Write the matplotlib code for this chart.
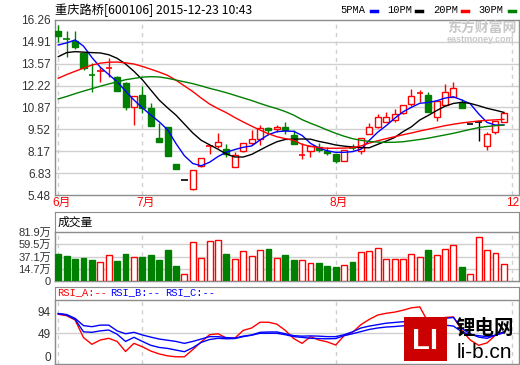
import numpy as np
import matplotlib
matplotlib.use("Agg")
import matplotlib.pyplot as plt
from matplotlib.patches import Rectangle
from matplotlib.transforms import blended_transform_factory, offset_copy

plt.rcParams['font.family'] = ['Liberation Sans', 'Noto Sans CJK SC']

# ---- data ----
title = "重庆路桥[600106] 2015-12-23 10:43"

opens = [15.58, 15.14, 14.97, 14.25, 12.89, 13.10, 13.30, 12.77, 12.40, 10.92,
         11.64, 10.82, 8.97, 9.67, 7.39, 6.40, 5.84, 7.28, 8.48, 8.51,
         8.31, 7.19, 8.21, 8.67, 8.91, 9.59, 9.53, 9.65, 9.17, 7.93,
         8.21, 8.46, 8.21, 7.99, 7.59, 8.41, 8.18, 9.22, 9.69, 10.00,
         10.10, 10.51, 11.08, 11.74, 11.64, 10.30, 11.02, 11.53, 11.13, 9.84,
         9.99, 8.52, 9.38, 9.99]
highs = [15.95, 15.58, 15.58, 14.25, 13.59, 13.38, 13.94, 12.80, 12.42, 11.58,
         12.19, 11.15, 9.93, 9.67, 7.39, 6.40, 7.00, 7.74, 8.50, 9.28,
         8.60, 8.15, 8.66, 9.48, 9.79, 9.69, 9.79, 9.99, 9.48, 8.66,
         8.50, 8.66, 8.46, 8.00, 8.25, 8.60, 9.00, 9.90, 10.47, 10.57,
         10.76, 11.02, 12.01, 11.95, 11.80, 11.27, 12.30, 12.46, 11.39, 9.84,
         9.99, 9.34, 10.04, 10.61]
lows = [14.92, 14.00, 14.45, 13.18, 11.84, 12.46, 12.77, 11.90, 10.72, 9.79,
        10.55, 9.75, 8.76, 7.90, 7.08, 6.40, 5.78, 7.22, 7.98, 8.36,
        7.84, 7.19, 8.11, 8.56, 8.56, 9.17, 9.38, 9.24, 8.60, 7.68,
        7.84, 8.15, 7.94, 7.43, 7.59, 8.25, 7.99, 9.22, 9.59, 10.00,
        10.00, 10.45, 10.98, 11.20, 10.60, 10.04, 11.02, 11.53, 10.86, 9.84,
        8.81, 8.25, 9.22, 9.99]
closes = [15.27, 15.08, 14.62, 13.28, 12.85, 13.15, 13.34, 11.90, 10.92, 11.58,
          10.86, 9.75, 8.76, 7.90, 7.08, 6.40, 7.00, 7.74, 8.50, 8.74,
          8.00, 7.94, 8.66, 8.91, 9.59, 9.49, 9.65, 9.49, 8.60, 7.95,
          8.50, 8.26, 8.05, 7.59, 8.25, 8.39, 9.00, 9.65, 10.27, 10.27,
          10.45, 11.02, 11.58, 11.78, 10.61, 11.27, 11.84, 12.05, 10.86, 9.84,
          9.99, 9.24, 10.04, 10.51]

ma5 = [14.72, 14.85, 15.03, 14.65, 13.95, 13.35, 12.90, 12.46, 11.88, 11.33,
       10.85, 10.41, 9.99, 9.50, 8.65, 7.90, 7.42, 7.28, 7.50, 7.85,
       8.12, 8.28, 8.42, 8.50, 8.87, 9.20, 9.38, 9.42, 9.40, 9.15,
       8.66, 8.38, 8.20, 8.11, 8.11, 8.15, 8.30, 8.85, 9.35, 9.75,
       10.20, 10.60, 10.88, 11.13, 11.18, 11.28, 11.45, 11.53, 11.33, 11.10,
       10.48, 9.95, 9.79, 9.79]
ma10 = [14.00, 14.25, 14.31, 14.28, 14.25, 14.23, 14.12, 13.90, 13.55, 13.10,
        12.58, 11.95, 11.33, 10.85, 10.40, 9.85, 9.30, 8.85, 8.57, 8.30,
        8.00, 7.82, 7.82, 7.98, 8.25, 8.52, 8.76, 8.90, 8.92, 8.93,
        8.92, 8.78, 8.68, 8.56, 8.49, 8.44, 8.39, 8.39, 8.60, 8.80,
        9.02, 9.38, 9.68, 10.10, 10.38, 10.68, 10.95, 11.12, 11.19, 11.12,
        10.98, 10.82, 10.70, 10.57]
ma20 = [12.67, 12.90, 13.10, 13.30, 13.48, 13.60, 13.66, 13.67, 13.62, 13.55,
        13.40, 13.23, 13.05, 12.85, 12.55, 12.20, 11.85, 11.45, 11.08, 10.80,
        10.55, 10.25, 9.98, 9.72, 9.48, 9.25, 9.07, 8.95, 8.85, 8.60,
        8.48, 8.40, 8.36, 8.36, 8.37, 8.40, 8.50, 8.68, 8.82, 8.95,
        9.07, 9.19, 9.30, 9.42, 9.53, 9.64, 9.75, 9.84, 9.92, 9.98,
        10.04, 10.08, 10.11, 10.14]
ma30 = [11.40, 11.55, 11.72, 11.88, 12.03, 12.18, 12.32, 12.45, 12.58, 12.66,
        12.74, 12.77, 12.75, 12.67, 12.56, 12.45, 12.34, 12.20, 12.05, 11.92,
        11.78, 11.62, 11.46, 11.30, 11.12, 10.95, 10.80, 10.62, 10.40, 10.12,
        9.90, 9.70, 9.48, 9.28, 9.10, 8.95, 8.85, 8.78, 8.74, 8.72,
        8.73, 8.76, 8.83, 8.90, 8.98, 9.08, 9.18, 9.28, 9.40, 9.52,
        9.63, 9.70, 9.75, 9.79]

volume = [44.6, 41.3, 37.3, 38.5, 35.1, 31.2, 43.0, 33.4, 44.6, 39.6,
          39.6, 43.0, 35.1, 51.8, 25.1, 11.2, 64.7, 38.0, 66.4, 68.1,
          45.2, 36.8, 49.7, 41.8, 51.8, 53.5, 38.0, 43.5, 35.1, 34.6,
          29.6, 30.1, 25.1, 23.4, 26.8, 31.8, 48.0, 50.2, 54.7, 36.8,
          36.8, 36.8, 44.6, 39.6, 51.8, 43.0, 53.5, 59.7, 23.4, 11.2,
          73.1, 51.3, 46.3, 27.9]
vol_dir = "GGGGGRRGGRGGGGGRRRRRGRRRRGRGGRRGGGRGRRRRRRRRGRRRGRRRRR"

rsi_a = [88.5, 85.6, 76.7, 40, 26, 35, 38.5, 32, 11, 28,
         21, 12, 6, 2, 0, 0, 15, 31, 46, 48,
         39, 39, 55, 60, 72, 72, 68, 55, 38, 28,
         42, 35, 31, 24.6, 44, 51, 67, 78, 87, 90.6,
         93, 97, 102, 104, 72, 74, 82, 83, 55, 35,
         24, 29, 45, 52]
rsi_b = [90, 88, 80, 65, 62.7, 66, 66, 54, 48, 51,
         45.5, 41, 37, 34.5, 32, 28, 32, 37, 42, 42,
         40, 39, 43, 45.4, 51, 51.7, 51.7, 48, 44, 43,
         43.5, 43, 42, 42, 46, 52, 60, 64, 67, 70,
         71.5, 73, 74, 75, 74, 76, 80, 82, 59, 48,
         41, 38.5, 45, 52]
rsi_c = [90, 87, 78, 52, 51, 54, 55.8, 47, 32, 40.6,
         32, 24, 19.5, 17.5, 14, 10.6, 19, 30, 36, 38.5,
         37.5, 38, 42, 45, 49, 49, 49, 46, 42, 40.5,
         38.5, 38, 37.5, 38, 44, 48, 52.5, 57, 60, 62,
         63, 64.5, 65, 65.5, 64, 65, 66, 64, 52, 46,
         44, 42, 45, 50]

price_ticks = [16.26, 14.91, 13.57, 12.22, 10.87, 9.52, 8.17, 6.83, 5.48]
vol_max = 81.9
vol_labels = ["81.9万", "59.5万", "37.1万", "14.7万", "0"]
rsi_ticks = [94, 49, 0]
month_pos = [0, 10, 33, 54]
month_labels = ["6月", "7月", "8月", "12"]

# ---- figure ----
W, H = 520, 365
fig = plt.figure(figsize=(W / 100, H / 100), dpi=100)
fig.patch.set_facecolor("white")

RED, GREEN, BLUE = "#ff0000", "#008000", "#0000ff"
FRAME, GRID, TXT = "#8c8c8c", "#d0d0d0", "#333333"
n = len(closes)
xs = np.arange(n)
XL = (-0.39, 54.8)


def add_ax(x0, y0, x1, y1):
    return fig.add_axes([x0 / W, 1 - y1 / H, (x1 - x0) / W, (y1 - y0) / H])


def style(ax):
    ax.set_xlim(*XL)
    ax.set_xticks([])
    for s in ax.spines.values():
        s.set_color(FRAME)
        s.set_linewidth(1)
    ax.tick_params(axis="y", length=0, pad=3, labelsize=8.5, labelcolor=TXT)
    for p in month_pos:
        ax.axvline(p, color=GRID, lw=1, ls=(0, (3, 3)), zorder=0)


# main price panel
ax = add_ax(55, 19.5, 519, 195)
style(ax)
ax.set_ylim(5.48, 16.29)
ax.set_yticks(price_ticks)
ax.set_yticklabels([f"{t:.2f}" for t in price_ticks])
for t in price_ticks[1:-1]:
    ax.axhline(t, color=GRID, lw=1, zorder=0)

for i in range(n):
    o, h, l, c = opens[i], highs[i], lows[i], closes[i]
    col = RED if c > o else (GREEN if c < o else "black")
    ax.vlines(i, l, h, color=col, lw=1, zorder=2)
    bottom, height = min(o, c), abs(c - o)
    if height < 0.07:
        ax.hlines((o + c) / 2, i - 0.38, i + 0.38, color=col, lw=1.2, zorder=3)
    else:
        face = "white" if c > o else col
        ax.add_patch(Rectangle((i - 0.36, bottom), 0.72, height, facecolor=face,
                               edgecolor=col, lw=1, zorder=3))

ax.plot(xs, ma5, color=BLUE, lw=1, zorder=4)
ax.plot(xs, ma10, color="black", lw=1, zorder=4)
ax.plot(xs, ma20, color=RED, lw=1, zorder=4)
ax.plot(xs, ma30, color=GREEN, lw=1, zorder=4)

trans = offset_copy(blended_transform_factory(ax.transData, ax.transAxes),
                    fig=fig, x=-6, y=0, units="dots")
for p, lab in zip(month_pos, month_labels):
    ax.text(p, -0.046, lab, transform=trans, ha="left", va="center",
            color=RED, fontsize=8.5, clip_on=False)

# title & legend
fig.text(55 / W, 1 - 10 / H, title, fontsize=8.8, va="center", ha="left",
         family=["Noto Sans CJK SC"])
leg = [("5PMA", 340, BLUE, 371), ("10PM", 387, "black", 416),
       ("20PM", 433, RED, 462), ("30PM", 478, GREEN, 509)]
for lab, tx, col, dx in leg:
    fig.text(tx / W, 1 - 10 / H, lab, fontsize=7.5, va="center", ha="left",
             family=["Liberation Mono"])
    fig.add_artist(plt.Line2D([dx / W, (dx + 6) / W], [1 - 10.5 / H, 1 - 10.5 / H],
                              color=col, lw=2.5))

# watermark
fig.text(447 / W, 1 - 28 / H, "东方财富网", fontsize=10, color="#c8c8c8",
         weight="bold", va="center", family=["Noto Sans CJK SC"])
fig.text(447 / W, 1 - 40 / H, "eastmoney.com", fontsize=6.5, color="#c8c8c8",
         weight="bold", va="center")

# volume panel
vbox = add_ax(55, 212, 519, 281)
vbox.set_xticks([]); vbox.set_yticks([])
for s in vbox.spines.values():
    s.set_color(FRAME)
vbox.text(3 / 464, 1 - 10 / 69, "成交量", transform=vbox.transAxes, fontsize=8.5,
          va="center", ha="left", family=["Noto Sans CJK SC"])

axv = add_ax(55, 232, 519, 281)
style(axv)
axv.set_ylim(0, vol_max)
# the software spaces its volume labels evenly down the panel
vol_pos = np.linspace(vol_max, 0, len(vol_labels))
axv.set_yticks(vol_pos)
axv.set_yticklabels(vol_labels)
axv.tick_params(axis="y", labelsize=8)
for t in vol_pos[1:-1]:
    axv.axhline(t, color=GRID, lw=1, zorder=0)
for i in range(n):
    col = RED if vol_dir[i] == "R" else GREEN
    face = "white" if vol_dir[i] == "R" else GREEN
    axv.bar(i, volume[i], width=0.7, facecolor=face, edgecolor=col, lw=1, zorder=3)

# RSI panel
rbox = add_ax(55, 287, 519, 364)
rbox.set_xticks([]); rbox.set_yticks([])
for s in rbox.spines.values():
    s.set_color(FRAME)
for lab, tx, col in [("RSI_A:--", 57, RED), ("RSI_B:--", 110, BLUE), ("RSI_C:--", 165, BLUE)]:
    fig.text(tx / W, 1 - 292 / H, lab, fontsize=7.5, color=col, va="center", ha="left",
             family=["Liberation Mono"])

axr = add_ax(55, 300, 519, 364)
style(axr)
axr.set_ylim(-15, 118.3)
axr.set_yticks(rsi_ticks)
axr.axhline(49, color=GRID, lw=1, zorder=0)
axr.plot(xs, rsi_a, color=RED, lw=1, zorder=3)
axr.plot(xs, rsi_b, color=BLUE, lw=1, zorder=3)
axr.plot(xs, rsi_c, color=BLUE, lw=1, zorder=3)

# li-b.cn logo
lg = add_ax(404, 317, 447, 361)
lg.set_xticks([]); lg.set_yticks([])
lg.set_facecolor("#cc0000")
for s in lg.spines.values():
    s.set_visible(False)
lg.text(0.5, 0.45, "LI", color="white", fontsize=21, weight="bold",
        ha="center", va="center", transform=lg.transAxes)
fig.text(456 / W, 1 - 328 / H, "锂电网", fontsize=14, weight="bold", va="center",
         family=["Noto Sans CJK SC"])
fig.text(457 / W, 1 - 352 / H, "li-b.cn", fontsize=15, va="center")

fig.savefig("out.png", dpi=100, facecolor="white")
